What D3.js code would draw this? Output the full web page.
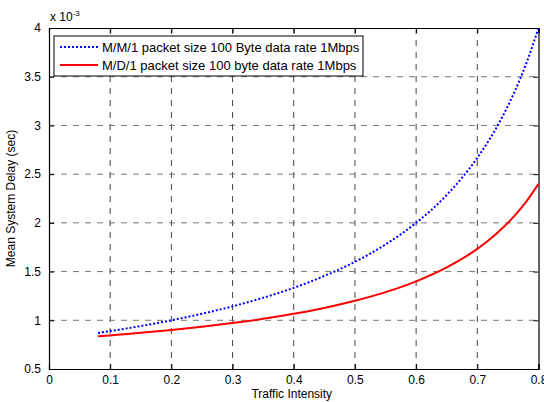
<!DOCTYPE html>
<html>
<head>
<meta charset="utf-8">
<script src="https://cdn.jsdelivr.net/npm/d3@7"></script>
<style>
  body { margin: 0; background: #fff; }
  svg { display: block; font-family: "Liberation Sans", Arial, sans-serif; }
</style>
</head>
<body>
<svg id="chart" width="544" height="402"></svg>
<script>
// Values (delay in ms, axis is x 10^-3 sec)
const intensity = [0.08, 0.10, 0.15, 0.20, 0.25, 0.30, 0.35, 0.40, 0.45, 0.50,
                   0.55, 0.60, 0.65, 0.70, 0.72, 0.74, 0.76, 0.78, 0.80];
const mm1Delay = [0.870, 0.889, 0.941, 1.000, 1.067, 1.143, 1.231, 1.333, 1.455, 1.600,
                  1.778, 2.000, 2.286, 2.667, 2.857, 3.077, 3.333, 3.636, 4.000];
const md1Delay = [0.835, 0.844, 0.871, 0.900, 0.933, 0.971, 1.015, 1.067, 1.127, 1.200,
                  1.289, 1.400, 1.543, 1.733, 1.829, 1.939, 2.067, 2.218, 2.400];
const xTicks = [0, 0.1, 0.2, 0.3, 0.4, 0.5, 0.6, 0.7, 0.8];
const yTicks = [0.5, 1, 1.5, 2, 2.5, 3, 3.5, 4];
const seriesNames = ["M/M/1 packet size 100 Byte data rate 1Mbps",
                     "M/D/1 packet size 100 byte data rate 1Mbps"];

const margin = { top: 28, right: 5.5, bottom: 33, left: 49 };
const width = 544, height = 402;
const innerW = width - margin.left - margin.right;
const innerH = height - margin.top - margin.bottom;

const svg = d3.select("#chart");
const g = svg.append("g").attr("transform", `translate(${margin.left},${margin.top})`);

const x = d3.scaleLinear().domain([0, 0.8]).range([0, innerW]);
const y = d3.scaleLinear().domain([0.5, 4]).range([innerH, 0]);

// grid
g.append("g").selectAll("line")
  .data(xTicks.slice(1, -1))
  .join("line")
    .attr("x1", d => x(d)).attr("x2", d => x(d))
    .attr("y1", 0).attr("y2", innerH)
    .attr("stroke", "#444").attr("stroke-dasharray", "6,6");

g.append("g").selectAll("line")
  .data(yTicks.slice(1, -1))
  .join("line")
    .attr("x1", 0).attr("x2", innerW)
    .attr("y1", d => y(d)).attr("y2", d => y(d))
    .attr("stroke", "#777").attr("stroke-dasharray", "6,6");

// axes (ticks inward, box on)
const fmt = d => String(d);
const xAxis = g.append("g")
  .attr("transform", `translate(0,${innerH})`)
  .call(d3.axisBottom(x).tickValues(xTicks).tickSize(-5).tickPadding(6).tickFormat(fmt));
const xTop = g.append("g")
  .call(d3.axisTop(x).tickValues(xTicks).tickSize(-5).tickFormat(""));
const yAxis = g.append("g")
  .call(d3.axisLeft(y).tickValues(yTicks).tickSize(-5).tickPadding(8).tickFormat(fmt));
const yRight = g.append("g")
  .attr("transform", `translate(${innerW},0)`)
  .call(d3.axisRight(y).tickValues(yTicks).tickSize(-5).tickFormat(""));

[xAxis, xTop, yAxis, yRight].forEach(a => {
  a.select(".domain").attr("stroke", "#000").attr("stroke-width", 1.2);
  a.selectAll(".tick line").attr("stroke", "#000");
  a.selectAll("text").attr("font-size", 12).attr("fill", "#000")
    .attr("font-family", "Liberation Sans, Arial, sans-serif");
});

// lines
const line = d3.line().curve(d3.curveMonotoneX);
const mm1 = intensity.map((v, i) => [x(v), y(mm1Delay[i])]);
const md1 = intensity.map((v, i) => [x(v), y(md1Delay[i])]);

g.append("path").attr("d", line(md1))
  .attr("fill", "none").attr("stroke", "#ff0000").attr("stroke-width", 2);
g.append("path").attr("d", line(mm1))
  .attr("fill", "none").attr("stroke", "#0000ff").attr("stroke-width", 2)
  .attr("stroke-dasharray", "2,2");

// legend
const lg = svg.append("g").attr("transform", "translate(54,36)");
lg.append("rect").attr("width", 309).attr("height", 40)
  .attr("fill", "#fff").attr("stroke", "#000").attr("stroke-width", 1);
const styles = [
  { color: "#0000ff", dash: "2,2" },
  { color: "#ff0000", dash: null }
];
seriesNames.forEach((name, i) => {
  const yy = 11 + i * 18;
  lg.append("line").attr("x1", 6).attr("x2", 44).attr("y1", yy).attr("y2", yy)
    .attr("stroke", styles[i].color).attr("stroke-width", 2)
    .attr("stroke-dasharray", styles[i].dash);
  lg.append("text").attr("x", 48).attr("y", yy + 4.5)
    .attr("font-size", 13).text(name);
});

// exponent label
const ex = svg.append("text").attr("x", 50).attr("y", 21).attr("font-size", 12);
ex.append("tspan").text("x 10");
ex.append("tspan").attr("dy", -5).attr("font-size", 8).text("-3");

// axis titles
svg.append("text")
  .attr("x", margin.left + innerW / 2 - 2).attr("y", 398)
  .attr("text-anchor", "middle").attr("font-size", 12)
  .text("Traffic Intensity");
svg.append("text")
  .attr("transform", `translate(15,${margin.top + innerH / 2}) rotate(-90)`)
  .attr("text-anchor", "middle").attr("font-size", 12)
  .text("Mean System Delay (sec)");
</script>
</body>
</html>
